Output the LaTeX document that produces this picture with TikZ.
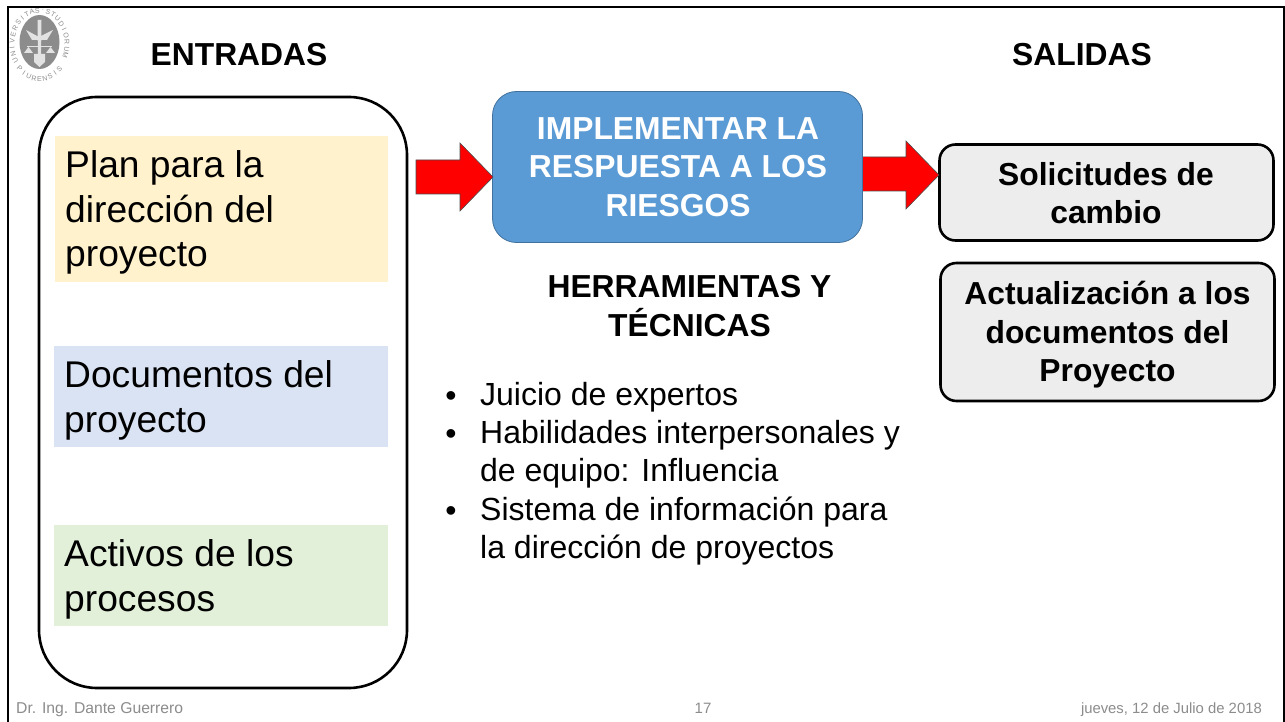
\documentclass[tikz,border=0pt]{standalone}
\usepackage{fontspec}
\setmainfont{Liberation Sans}
\definecolor{boxblue}{HTML}{5B9BD5}
\definecolor{boxedge}{HTML}{41719C}
\definecolor{peach}{HTML}{FFF2CC}
\definecolor{paleblue}{HTML}{DAE3F3}
\definecolor{palegreen}{HTML}{E2F0D9}
\definecolor{outgray}{HTML}{EDEDED}
\definecolor{footgray}{HTML}{8C8C8C}
\definecolor{logogray}{HTML}{8C8C8C}
\newcommand{\fs}[1]{\fontsize{#1}{#1}\selectfont}
\tikzset{
 x=1pt,y=-1pt,
 heading/.style={font=\fs{31.8}\bfseries,inner sep=0pt},
 intext/.style={anchor=west,align=left,font=\fontsize{37.2}{44.8}\selectfont,inner sep=0pt},
 outbox/.style={draw=black,line width=2.6pt,fill=outgray,rounded corners=16pt,inner sep=0pt},
 boldtext/.style={align=center,font=\fontsize{31.8}{38.5}\selectfont\bfseries,inner sep=0pt},
 bigarrow/.style={draw=black!70,line width=0.6pt,fill=red},
 foot/.style={text=footgray,inner sep=0pt},
 bullets/.style={anchor=north west,align=left,font=\fontsize{32}{38.3}\selectfont,inner sep=0pt},
 logoletter/.style={font=\fs{7},text=logogray,inner sep=0pt},
}
\begin{document}
\begin{tikzpicture}
\useasboundingbox (0,0) rectangle (1285,722);
\fill[white] (0,0) rectangle (1285,722);
% frame
\coordinate (fa) at (8,722);
\coordinate (fb) at (8,7.5);
\coordinate (fc) at (1284,7.5);
\coordinate (fd) at (1284,722);
\draw[line width=2pt] (fa) -- (fb) -- (fc) -- (fd);
% logo
\fill[logogray] (39.5,42) ellipse (20 and 27);
\fill[white!75!logogray] (37.5,20) -- (41.5,20) -- (41,62) -- (38,62) -- cycle;
\fill[white!75!logogray] (26,30) -- (39,37) -- (53,30) -- (47,40) -- (32,40) -- cycle;
\draw[white!75!logogray,line width=0.8pt] (27,46) -- (52,46);
\fill[white!75!logogray] (24,53) -- (33,53) -- (28.5,47) -- cycle;
\fill[white!75!logogray] (46,53) -- (55,53) -- (50.5,47) -- cycle;
\fill[white!75!logogray] (34,54) -- (45,54) -- (45,62) -- (39.5,67) -- (34,62) -- cycle;
\foreach \ch [count=\i from 0] in {U,N,I,V,E,R,S,I,T,A,S,·,S,T,U,D,I,O,R,U,M} {
  \pgfmathsetmacro{\tt}{-119+11.45*\i}
  \node[logoletter,rotate=-\tt] (lt\i) at ({39.5+27.5*sin(\tt)},{44-33.5*cos(\tt)}) {\ch};
}
\foreach \ch [count=\i from 0] in {P,I,U,R,E,N,S,I,S} {
  \pgfmathsetmacro{\tt}{225-11.25*\i}
  \node[logoletter,rotate=180-\tt] (lb\i) at ({39.5+28*sin(\tt)},{44-35*cos(\tt)}) {\ch};
}
% headings
\node[heading] (ent) at (239,54.5) {ENTRADAS};
\node[heading] (sal) at (1082,54.5) {SALIDAS};
% inputs
\draw[line width=2.6pt,rounded corners=58pt,fill=white] (39,97) rectangle (407,688);
\fill[peach] (55,136) rectangle (388,282);
\fill[paleblue] (54,346) rectangle (388,447);
\fill[palegreen] (54,525) rectangle (388,626);
\node[intext] (plan) at (65,212.5) {Plan para la\\dirección del\\proyecto};
\node[intext] (docs) at (64,400) {Documentos del\\proyecto};
\node[intext] (act) at (64,579) {Activos de los\\procesos};
% process
\node[draw=boxedge,line width=0.8pt,fill=boxblue,rounded corners=24pt,minimum width=370pt,minimum height=151pt,inner sep=0pt] (proc) at (677.5,167) {};
\node[boldtext,text=white] (proct) at (678,167) {IMPLEMENTAR LA\\RESPUESTA A LOS\\RIESGOS};
% outputs
\node[outbox,minimum width=334pt,minimum height=96pt] (o1) at (1106.5,192.5) {};
\node[boldtext] (o1t) at (1106,193) {Solicitudes de\\cambio};
\node[outbox,minimum width=334pt,minimum height=138pt] (o2) at (1107.5,332) {};
\node[boldtext] (o2t) at (1107.5,335) {Actualización a los\\documentos del\\Proyecto};
% arrows
\draw[bigarrow] (416,160) -- (460,160) -- (460,143) -- (493,177) -- (460,211) -- (460,194) -- (416,194) -- cycle;
\draw[bigarrow] (863,157) -- (906,157) -- (906,141) -- (939,175) -- (906,209) -- (906,191) -- (863,191);
\fill[red] (863,157.3) rectangle (870,190.7);
% tools
\node[boldtext] (herr) at (689.5,306) {HERRAMIENTAS Y\\TÉCNICAS};
\node[bullets] (b0) at (480,382) {Juicio de expertos\\Habilidades interpersonales y\\de equipo: Influencia\\Sistema de información para\\la dirección de proyectos};
\node[font=\fs{32},inner sep=0pt] (d1) at (451,399) {•};
\node[font=\fs{32},inner sep=0pt] (d2) at (451,437) {•};
\node[font=\fs{32},inner sep=0pt] (d3) at (451,514) {•};
% footer
\node[foot,anchor=west,font=\fs{15.7}] (f1) at (16,709.5) {Dr. Ing. Dante Guerrero};
\node[foot,font=\fs{15}] (f2) at (703,708) {17};
\node[foot,anchor=east,font=\fs{14.85}] (f3) at (1262,709.5) {jueves, 12 de Julio de 2018};
\end{tikzpicture}
\end{document}
